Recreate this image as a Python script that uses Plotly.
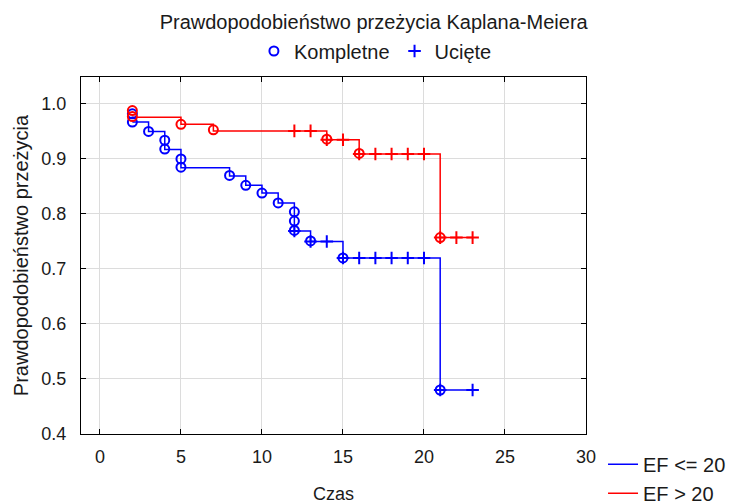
import plotly.graph_objects as go

# ---- data ----
blue_step_x = [2, 3, 4, 5, 8, 9, 10, 11, 12, 13, 15, 21, 23]
blue_step_y = [0.967, 0.950, 0.917, 0.884, 0.869, 0.852, 0.838, 0.820, 0.769, 0.750, 0.720, 0.480, 0.480]
red_step_x = [2, 5, 7, 14, 16, 21, 23]
red_step_y = [0.976, 0.963, 0.951, 0.935, 0.909, 0.757, 0.757]

blue_event_x = [2, 2, 3, 4, 4, 5, 5, 8, 9, 10, 11, 12, 12, 12, 13, 15, 21]
blue_event_y = [0.982, 0.967, 0.950, 0.934, 0.918, 0.900, 0.885, 0.870, 0.852, 0.838, 0.820,
                0.804, 0.787, 0.770, 0.751, 0.720, 0.480]
blue_cens_x = [12, 13, 14, 15, 16, 17, 18, 19, 20, 21, 23]
blue_cens_y = [0.769, 0.750, 0.750, 0.720, 0.720, 0.720, 0.720, 0.720, 0.720, 0.480, 0.480]

red_event_x = [2, 2, 5, 7, 14, 16, 21]
red_event_y = [0.988, 0.977, 0.963, 0.953, 0.936, 0.910, 0.757]
red_cens_x = [12, 13, 14, 15, 16, 17, 18, 19, 20, 21, 22, 23]
red_cens_y = [0.951, 0.951, 0.935, 0.935, 0.909, 0.909, 0.909, 0.909, 0.909, 0.757, 0.757, 0.757]

x_ticks = [0, 5, 10, 15, 20, 25, 30]
y_ticks = [0.4, 0.5, 0.6, 0.7, 0.8, 0.9, 1.0]

BLUE = "#0000FF"
RED = "#FF0000"
FONT = "Liberation Sans, Arial, sans-serif"
TXT = "#1a1a1a"

fig = go.Figure()

fig.add_trace(go.Scatter(x=blue_step_x, y=blue_step_y, mode="lines", line=dict(color=BLUE, width=1.5, shape="hv"),
                         name="EF <= 20", legend="legend2"))
fig.add_trace(go.Scatter(x=red_step_x, y=red_step_y, mode="lines", line=dict(color=RED, width=1.5, shape="hv"),
                         name="EF > 20", legend="legend2"))

circle = dict(symbol="circle-open", size=9, line=dict(width=2))
cross = dict(symbol="cross-thin-open", size=9, line=dict(width=2))

fig.add_trace(go.Scatter(x=blue_event_x, y=blue_event_y, mode="markers",
                         marker=dict(color=BLUE, **circle), name="Kompletne", legend="legend"))
fig.add_trace(go.Scatter(x=blue_cens_x, y=blue_cens_y, mode="markers",
                         marker=dict(color=BLUE, **cross), name="Ucięte", legend="legend"))
fig.add_trace(go.Scatter(x=red_event_x, y=red_event_y, mode="markers",
                         marker=dict(color=RED, **circle), showlegend=False))
fig.add_trace(go.Scatter(x=red_cens_x, y=red_cens_y, mode="markers",
                         marker=dict(color=RED, **cross), showlegend=False))

axis_common = dict(showgrid=True, gridcolor="#DCDCDC", gridwidth=1, zeroline=False,
                   showline=True, linecolor="black", linewidth=1, mirror="ticks",
                   ticks="inside", ticklen=5, tickcolor="black",
                   tickfont=dict(family=FONT, size=18, color=TXT))

fig.update_layout(
    width=737, height=504,
    margin=dict(l=81, r=151, t=77, b=70, autoexpand=False),
    paper_bgcolor="white", plot_bgcolor="white",
    font=dict(family=FONT, size=18, color=TXT),
    title=dict(text="Prawdopodobieństwo przeżycia Kaplana-Meiera", xref="container", x=0.507,
               xanchor="center", yref="container", y=1 - 21.7 / 504, yanchor="middle",
               font=dict(family=FONT, size=20, color=TXT)),
    xaxis=dict(range=[-1.17, 30], tickvals=x_ticks, ticktext=[str(v) for v in x_ticks],
               title=dict(text="Czas", standoff=29, font=dict(family=FONT, size=18, color=TXT)),
               ticklabelstandoff=6, **axis_common),
    yaxis=dict(range=[0.4, 1.049], tickvals=y_ticks, ticktext=[f"{v:.1f}" for v in y_ticks],
               title=dict(text="Prawdopodobieństwo przeżycia", standoff=7,
                          font=dict(family=FONT, size=20, color=TXT)),
               ticklabelstandoff=10, **axis_common),
    legend=dict(orientation="h", x=0.583, xanchor="center", y=1.0728, yanchor="middle",
                font=dict(family=FONT, size=20, color=TXT), bgcolor="rgba(0,0,0,0)"),
    legend2=dict(orientation="v", x=1.0337, xanchor="left", y=-0.030, yanchor="top",
                 font=dict(family=FONT, size=20, color=TXT), bgcolor="rgba(0,0,0,0)"),
)

fig.write_html("out.html")
